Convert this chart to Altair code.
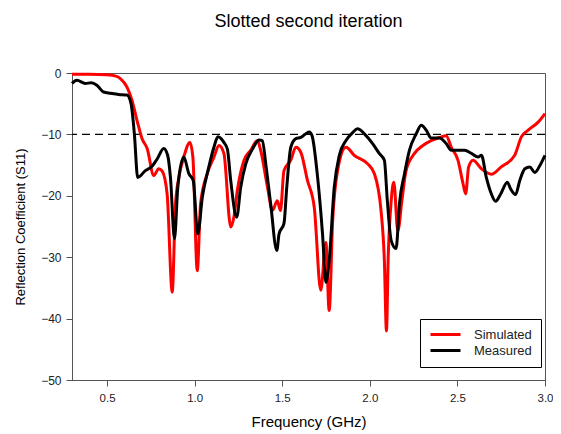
import altair as alt
import pandas as pd

sim_f = [0.30,0.40,0.50,0.55,0.576,0.614,0.643,0.671,0.70,0.729,0.767,0.795,0.815,0.843,0.872,0.891,0.91,0.938,0.973,0.99,1.015,1.034,1.072,1.11,1.139,1.167,1.206,1.224,1.244,1.282,1.32,1.358,1.377,1.416,1.444,1.472,1.49,1.51,1.549,1.578,1.606,1.644,1.683,1.72,1.749,1.768,1.788,1.816,1.864,1.911,1.988,2.026,2.064,2.083,2.095,2.105,2.122,2.137,2.16,2.183,2.207,2.255,2.303,2.35,2.398,2.436,2.465,2.503,2.532,2.547,2.564,2.589,2.637,2.694,2.75,2.827,2.865,2.904,2.961,3.0]
sim_v = [-0.2,-0.2,-0.3,-0.5,-0.9,-2.3,-4.5,-7.7,-10.7,-12.3,-16.7,-15.6,-16.0,-19.7,-35.7,-21.3,-17.0,-13.7,-11.3,-13.7,-32.2,-21.3,-16.4,-13.7,-11.8,-13.1,-25.1,-23.5,-19.1,-14.2,-12.6,-11.0,-12.6,-18.6,-22.4,-20.8,-22.4,-15.9,-14.2,-12.1,-12.9,-17.5,-21.9,-35.4,-27.6,-38.7,-24.0,-15.9,-12.1,-13.4,-14.8,-16.4,-22.4,-30.5,-42.0,-30.0,-20.8,-17.8,-25.7,-20.8,-15.9,-13.1,-11.8,-11.0,-10.5,-10.2,-12.1,-14.2,-18.0,-19.7,-15.3,-14.2,-15.6,-16.5,-15.3,-13.4,-10.4,-9.3,-8.0,-6.6]

meas_f = [0.30,0.328,0.376,0.41,0.442,0.48,0.52,0.566,0.614,0.637,0.656,0.675,0.719,0.757,0.786,0.824,0.846,0.862,0.885,0.904,0.938,0.967,0.992,1.018,1.044,1.081,1.11,1.133,1.167,1.187,1.206,1.24,1.263,1.292,1.33,1.368,1.387,1.406,1.434,1.469,1.482,1.51,1.526,1.549,1.578,1.606,1.635,1.654,1.67,1.702,1.73,1.749,1.768,1.797,1.826,1.864,1.902,1.93,1.969,2.016,2.054,2.083,2.10,2.122,2.15,2.169,2.198,2.226,2.265,2.293,2.322,2.35,2.398,2.436,2.465,2.503,2.541,2.58,2.618,2.637,2.665,2.694,2.718,2.747,2.785,2.804,2.832,2.856,2.885,2.913,2.942,2.97,3.0]
meas_v = [-1.7,-1.2,-1.7,-1.6,-2.0,-3.1,-3.3,-3.5,-3.6,-5.0,-9.9,-17.0,-15.9,-15.2,-14.0,-12.3,-13.4,-17.0,-27.0,-18.6,-13.7,-16.4,-17.5,-26.2,-20.2,-15.3,-12.1,-10.4,-11.3,-12.4,-17.5,-23.5,-18.6,-14.8,-12.4,-10.9,-11.0,-14.8,-21.3,-28.9,-26.2,-24.5,-18.6,-12.1,-10.7,-10.5,-9.9,-9.6,-10.2,-17.0,-26.2,-34.1,-30.6,-18.6,-13.4,-11.0,-9.7,-9.1,-9.9,-11.5,-13.1,-14.2,-20.8,-27.3,-28.6,-21.3,-16.4,-12.6,-9.9,-8.5,-9.3,-10.6,-10.6,-11.5,-12.6,-12.6,-12.6,-13.1,-13.7,-13.4,-17.0,-19.7,-20.9,-19.7,-17.8,-18.9,-19.8,-17.5,-15.6,-15.3,-16.2,-15.1,-13.4]

series = ["Simulated", "Measured"]
colors = ["#ff0000", "#000000"]
x_ticks = [0.5, 1.0, 1.5, 2.0, 2.5, 3.0]
y_ticks = [0, -10, -20, -30, -40, -50]

sim = pd.DataFrame({"f": sim_f, "v": sim_v, "s": "Simulated"})
meas = pd.DataFrame({"f": meas_f, "v": meas_v, "s": "Measured"})

font = "Liberation Sans"
xs = alt.X("f:Q", scale=alt.Scale(domain=[0.3, 3.0], nice=False),
           axis=alt.Axis(values=x_ticks, format=".1f", title="Frequency (GHz)", grid=False,
                         tickSize=6, labelPadding=6, titlePadding=11, labelFlush=False,
                         labelFontSize=11.5, titleFontSize=15))
ys = alt.Y("v:Q", scale=alt.Scale(domain=[-50, 0], nice=False),
           axis=alt.Axis(values=y_ticks, format="d", title="Reflection Coefficient (S11)", grid=False,
                         tickSize=6, labelPadding=5, titlePadding=13,
                         labelFontSize=12, titleFontSize=13))
col = alt.Color("s:N", scale=alt.Scale(domain=series, range=colors),
                legend=alt.Legend(title=None, orient="none", legendX=348, legendY=246,
                                  symbolType="M-1,0H5", symbolStrokeWidth=3, symbolSize=100,
                                  strokeColor="black", padding=9, labelFontSize=13,
                                  labelOffset=32, labelFont=font, rowPadding=2, labelColor="#222"))

l_sim = alt.Chart(sim).mark_line(strokeWidth=3, interpolate="monotone").encode(x=xs, y=ys, color=col)
l_meas = alt.Chart(meas).mark_line(strokeWidth=3, interpolate="monotone").encode(x=xs, y=ys, color=col)
rule = alt.Chart(pd.DataFrame({"y": [-10]})).mark_rule(color="black", strokeWidth=1.2, strokeDash=[8, 5]).encode(y="y:Q")

chart = alt.layer(rule, l_sim, l_meas).properties(
    width=473, height=307,
    autosize=alt.AutoSizeParams(type="none"),
    padding={"left": 64, "top": 65, "right": 8, "bottom": 54},
    title=alt.TitleParams("Slotted second iteration", fontSize=18, font=font, fontWeight="normal",
                          anchor="middle", offset=36, color="black"),
).configure_view(stroke="#555", strokeWidth=1).configure_axis(
    labelFont=font, titleFont=font, titleFontWeight="normal",
    domainColor="#555", tickColor="#555", labelColor="#222", titleColor="black"
)

chart.save("out.html", embed_options={"renderer": "svg", "actions": False})
